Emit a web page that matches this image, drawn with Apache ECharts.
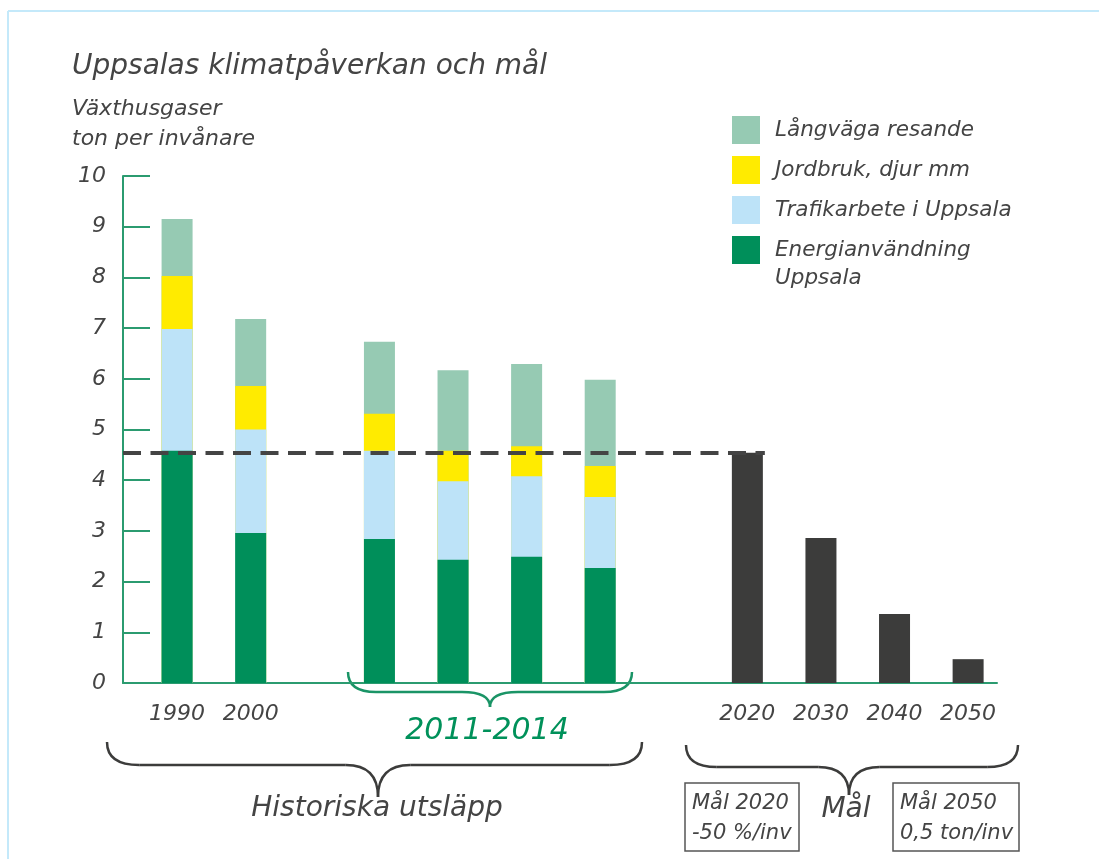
<!DOCTYPE html>
<html>
<head>
<meta charset="utf-8">
<style>
  html, body { margin: 0; padding: 0; background: #fff; }
  #chart { width: 1099px; height: 859px; }
</style>
<script src="https://cdn.jsdelivr.net/npm/echarts@6/dist/echarts.min.js"></script>
</head>
<body>
<div id="chart"></div>
<script>
// platser på x-axeln (fjärdedels kolumnsteg) och årtal
const histYears = ['1990', '2000', '2011', '2012', '2013', '2014'];
const histSlots = [0, 4, 11, 15, 19, 23];
const goalYears = ['2020', '2030', '2040', '2050'];
const goalSlots = [31, 35, 39, 43];
// årtal som skrivs ut under axeln (2011-2014 har egen klammer)
const tickYears = ['1990', '2000', '2020', '2030', '2040', '2050'];
const tickSlots = [0, 4, 31, 35, 39, 43];

// ton per invånare, per sektor (nedifrån och upp)
const energi   = [4.58, 2.96, 2.84, 2.43, 2.49, 2.27];
const trafik   = [2.40, 2.04, 1.74, 1.55, 1.59, 1.40];
const jordbruk = [1.05, 0.86, 0.73, 0.60, 0.59, 0.61];
const langvaga = [1.12, 1.32, 1.42, 1.59, 1.62, 1.70];
const mal      = [4.54, 2.86, 1.36, 0.47];
const malNiva  = 4.55;

const names = ['Energianvändning Uppsala', 'Trafikarbete i Uppsala', 'Jordbruk, djur mm', 'Långväga resande'];

const font = "'DejaVu Sans', sans-serif";
const grey = '#444';
const axisGreen = '#2b9b70';
const xMin = -2.94, xMax = 44.57;

const chart = echarts.init(document.getElementById('chart'), null, { renderer: 'canvas' });

// stapling på värdeaxel: kumulativa toppar, ritade överlappande bakifrån
const sektorer = [energi, trafik, jordbruk, langvaga];
const toppar = sektorer.map((s, k) =>
  histSlots.map((x, i) => {
    let sum = 0;
    for (let j = 0; j <= k; j++) sum += sektorer[j][i];
    return [x, +sum.toFixed(2)];
  })
);
const farger = ['#008f5a', '#bde3f8', '#ffeb00', '#96cab3'];

function brace(x1, x2, yTop, yMid, xTip, yTip, color) {
  const r = (yMid - yTop) * 1.4;
  const st = { stroke: color, lineWidth: 2.5, fill: null };
  const q = (ax, ay, cx, cy, bx, by) => ({ type: 'bezierCurve', shape: { x1: ax, y1: ay, cpx1: cx, cpy1: cy, x2: bx, y2: by }, style: st });
  const l = (ax, ay, bx, by) => ({ type: 'line', shape: { x1: ax, y1: ay, x2: bx, y2: by }, style: st });
  return {
    type: 'group',
    children: [
      q(x1, yTop, x1, yMid, x1 + r, yMid),
      l(x1 + r, yMid, xTip - r, yMid),
      q(xTip - r, yMid, xTip, yMid, xTip, yTip),
      q(xTip, yTip, xTip, yMid, xTip + r, yMid),
      l(xTip + r, yMid, x2 - r, yMid),
      q(x2 - r, yMid, x2, yMid, x2, yTop)
    ]
  };
}
function label(text, x, y, size, color, align) {
  return {
    type: 'text', x: x, y: y,
    style: { text: text, font: 'oblique ' + size + 'px ' + font, fill: color || grey, align: align || 'center', verticalAlign: 'middle', lineHeight: 30 }
  };
}

const series = [];
for (let k = 3; k >= 0; k--) {
  series.push({
    name: names[k], type: 'bar', barWidth: 31, barGap: '-100%',
    itemStyle: { color: farger[k] },
    data: toppar[k]
  });
}
series.push({
  name: 'Mål', type: 'bar', barWidth: 31, barGap: '-100%',
  itemStyle: { color: '#3c3c3b' },
  data: goalSlots.map((x, i) => [x, mal[i]]),
  markLine: {
    silent: true, symbol: 'none', label: { show: false },
    lineStyle: { color: grey, width: 4, type: [18, 9.5] },
    data: [[{ coord: [xMin, malNiva] }, { coord: [goalSlots[0] + 0.95, malNiva] }]]
  }
});

const option = {
  animation: false,
  title: {
    text: 'Uppsalas klimatpåverkan och mål',
    subtext: 'Växthusgaser\nton per invånare',
    left: 67, top: 48, itemGap: 13,
    textStyle: { fontFamily: font, fontStyle: 'italic', fontWeight: 'normal', fontSize: 28, color: grey },
    subtextStyle: { fontFamily: font, fontStyle: 'italic', fontSize: 22, lineHeight: 30, color: grey }
  },
  legend: {
    left: 727, top: 111, orient: 'vertical',
    itemWidth: 28, itemHeight: 28, itemGap: 12, icon: 'rect',
    selectedMode: false,
    data: [names[3], names[2], names[1], names[0]],
    formatter: function (n) { return n === names[0] ? 'Energianvändning' : n; },
    textStyle: { fontFamily: font, fontStyle: 'italic', fontSize: 21.5, color: grey, padding: [0, 0, 0, 10] }
  },
  grid: { left: 123, right: 102, top: 176, bottom: 176 },
  xAxis: {
    type: 'value', min: xMin, max: xMax,
    splitLine: { show: false },
    axisLine: { show: true, onZero: false, lineStyle: { color: axisGreen, width: 2 } },
    axisTick: { show: false },
    axisLabel: {
      customValues: tickSlots,
      formatter: function (v) { return tickYears[tickSlots.indexOf(v)] || ''; },
      fontFamily: font, fontStyle: 'italic', fontSize: 22, color: grey, margin: 20
    }
  },
  yAxis: {
    type: 'value', min: 0, max: 10, interval: 1,
    splitLine: { show: false },
    axisLine: { show: true, onZero: false, lineStyle: { color: axisGreen, width: 2 } },
    axisTick: { show: true, inside: true, length: 27, lineStyle: { color: axisGreen, width: 2 } },
    axisLabel: { fontFamily: font, fontStyle: 'italic', fontSize: 22, color: grey, margin: 17 }
  },
  series: series,
  graphic: [
    // ram
    { type: 'line', shape: { x1: 8, y1: 11, x2: 1099, y2: 11 }, style: { stroke: '#c4e9fa', lineWidth: 2 } },
    { type: 'line', shape: { x1: 8, y1: 11, x2: 8, y2: 859 }, style: { stroke: '#c4e9fa', lineWidth: 2 } },
    label('Uppsala', 775, 278, 21.5, grey, 'left'),
    brace(348, 632, 672, 692, 490, 707, '#1a9466'),
    brace(107, 642, 742, 765, 378, 797, '#3c3c3b'),
    brace(686, 1018, 745, 767, 849, 795, '#3c3c3b'),
    label('2011-2014', 487, 731, 30, '#00915a'),
    label('Historiska utsläpp', 377, 809, 28),
    label('Mål', 846, 810, 28),
    { type: 'rect', shape: { x: 685, y: 783, width: 114, height: 68 }, style: { fill: null, stroke: '#555', lineWidth: 1.5 } },
    { type: 'rect', shape: { x: 893, y: 783, width: 126, height: 68 }, style: { fill: null, stroke: '#555', lineWidth: 1.5 } },
    label('Mål 2020\n-50 %/inv', 692, 819, 21, grey, 'left'),
    label('Mål 2050\n0,5 ton/inv', 900, 819, 21, grey, 'left')
  ]
};

chart.setOption(option);
</script>
</body>
</html>
